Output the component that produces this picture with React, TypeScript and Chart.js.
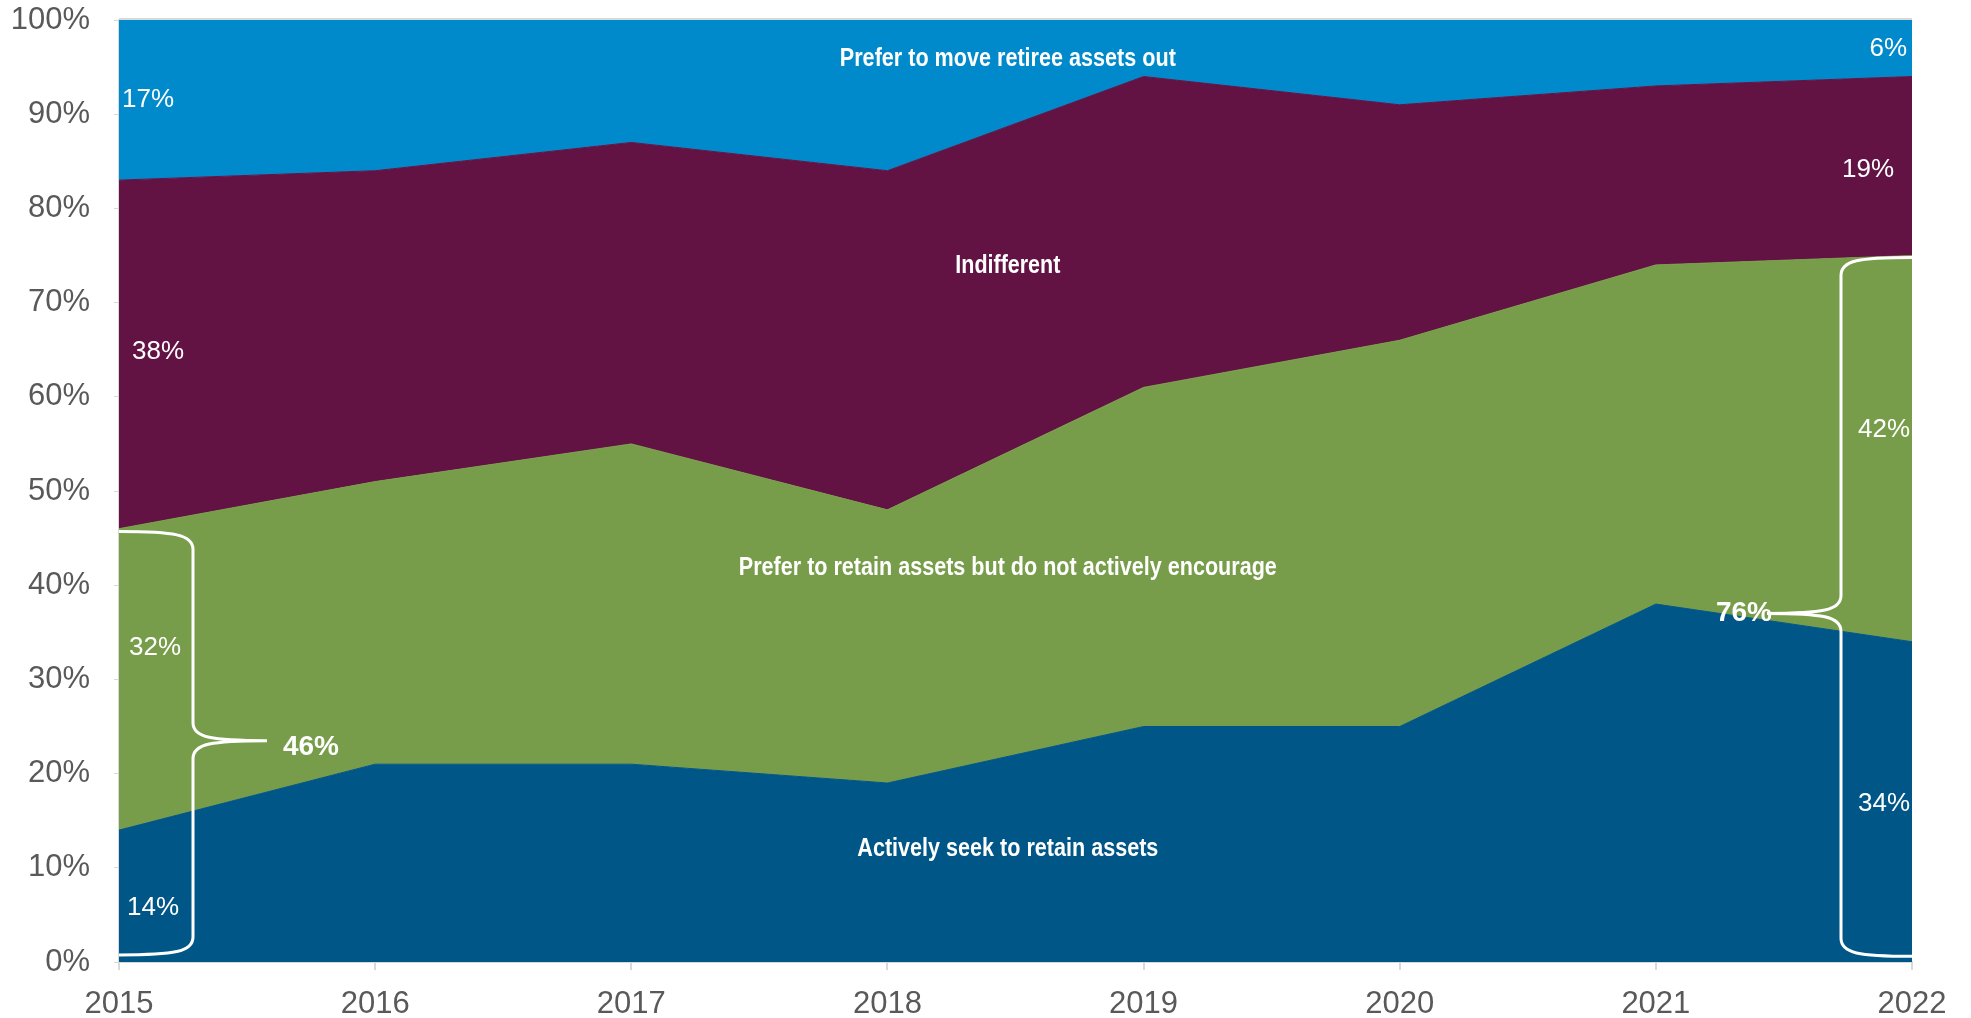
import React, { useEffect, useRef } from "react";
import { Chart, registerables } from "chart.js";

Chart.register(...registerables);

// ---------- data ----------
const years = ["2015", "2016", "2017", "2018", "2019", "2020", "2021", "2022"];
const activelySeek = [14, 21, 21, 19, 25, 25, 38, 34];
const preferRetain = [32, 30, 34, 29, 36, 41, 36, 41];
const indifferent = [37, 33, 32, 36, 33, 25, 19, 19];
const moveOut = [17, 16, 13, 16, 6, 9, 7, 6];

const seriesNames = [
  "Actively seek to retain assets",
  "Prefer to retain assets but do not actively encourage",
  "Indifferent",
  "Prefer to move retiree assets out",
];
const seriesColors = ["#005687", "#789D4A", "#621344", "#008ACC"];

const yTickValues = [0, 10, 20, 30, 40, 50, 60, 70, 80, 90, 100];

const firstYearLabels = ["14%", "32%", "38%", "17%"];
const lastYearLabels = ["34%", "42%", "19%", "6%"];
const firstYearTotal = "46%";
const lastYearTotal = "76%";

// ---------- annotation placement (data-space y, pixel offsets in x) ----------
const nameX = 3.47;
const nameY = [12.0, 41.8, 73.9, 95.8];
const nameWidths = [301, 538, 105, 336];

const firstLabelY = [5.8, 33.3, 64.8, 91.5];
const firstLabelDx = [8, 10, 13, 3];
const lastLabelY = [16.8, 56.5, 84.1, 96.9];
const lastLabelDx = [-2, -2, -18, -5];

const FONT = '"Liberation Sans", Arial, Helvetica, sans-serif';

function drawBrace(
  ctx: CanvasRenderingContext2D,
  xEnd: number,
  xStem: number,
  xTip: number,
  yTop: number,
  yBot: number,
  yTip: number
) {
  const d = xStem - xEnd;
  const t = xTip - xStem;
  const r = 18;
  ctx.beginPath();
  ctx.moveTo(xEnd, yTop);
  ctx.bezierCurveTo(xEnd + 0.75 * d, yTop, xStem, yTop + 3, xStem, yTop + r);
  ctx.lineTo(xStem, yTip - r);
  ctx.bezierCurveTo(xStem, yTip - 3, xStem + 0.25 * t, yTip, xTip, yTip);
  ctx.moveTo(xTip, yTip);
  ctx.bezierCurveTo(xStem + 0.25 * t, yTip, xStem, yTip + 3, xStem, yTip + r);
  ctx.lineTo(xStem, yBot - r);
  ctx.bezierCurveTo(xStem, yBot - 3, xEnd + 0.75 * d, yBot, xEnd, yBot);
  ctx.stroke();
}

const annotationPlugin = {
  id: "annotations",
  afterDatasetsDraw(chart: any) {
    const { ctx, chartArea } = chart;
    const x = chart.scales.x;
    const y = chart.scales.y;
    ctx.save();

    // top border line
    ctx.strokeStyle = "#d9d9d9";
    ctx.lineWidth = 2;
    ctx.beginPath();
    ctx.moveTo(chartArea.left, chartArea.top - 1);
    ctx.lineTo(chartArea.right, chartArea.top - 1);
    ctx.stroke();

    ctx.fillStyle = "#ffffff";
    ctx.textBaseline = "middle";

    // series names
    ctx.textAlign = "center";
    ctx.font = `bold 25px ${FONT}`;
    seriesNames.forEach((name, i) => {
      ctx.fillText(name, x.getPixelForValue(nameX), y.getPixelForValue(nameY[i]), nameWidths[i]);
    });

    // first-year percentages
    ctx.font = `26px ${FONT}`;
    ctx.textAlign = "left";
    const x0 = x.getPixelForValue(0);
    firstYearLabels.forEach((lab, i) => {
      ctx.fillText(lab, x0 + firstLabelDx[i], y.getPixelForValue(firstLabelY[i]));
    });

    // last-year percentages
    ctx.textAlign = "right";
    const x7 = x.getPixelForValue(years.length - 1);
    lastYearLabels.forEach((lab, i) => {
      ctx.fillText(lab, x7 + lastLabelDx[i], y.getPixelForValue(lastLabelY[i]));
    });

    // braces
    ctx.strokeStyle = "#ffffff";
    ctx.lineWidth = 3;
    drawBrace(ctx, x0, x0 + 74, x0 + 148, y.getPixelForValue(45.7), y.getPixelForValue(0.75), y.getPixelForValue(23.5));
    drawBrace(ctx, x7, x7 - 71, x7 - 145, y.getPixelForValue(74.8), y.getPixelForValue(0.6), y.getPixelForValue(37.0));

    // totals
    ctx.font = `bold 28px ${FONT}`;
    ctx.textAlign = "center";
    ctx.fillText(firstYearTotal, x0 + 192, y.getPixelForValue(22.8));
    ctx.fillText(lastYearTotal, x7 - 168, y.getPixelForValue(37.0));

    ctx.restore();
  },
};

export default function App() {
  const ref = useRef<HTMLCanvasElement | null>(null);

  useEffect(() => {
    const prevMargin = document.body.style.margin;
    document.body.style.margin = "0";
    if (!ref.current) return;
    const series = [activelySeek, preferRetain, indifferent, moveOut];
    const chart = new Chart(ref.current, {
      type: "line",
      data: {
        labels: years,
        datasets: series.map((data, i) => ({
          label: seriesNames[i],
          data,
          backgroundColor: seriesColors[i],
          borderColor: seriesColors[i],
          borderWidth: 1,
          pointRadius: 0,
          tension: 0,
          fill: i === 0 ? "origin" : "-1",
        })),
      },
      options: {
        animation: false,
        responsive: false,
        maintainAspectRatio: false,
        layout: { padding: { top: 20, right: 59, left: 0, bottom: 0 } },
        plugins: {
          legend: { display: false },
          tooltip: { enabled: false },
        },
        scales: {
          x: {
            offset: false,
            grid: {
              display: true,
              drawOnChartArea: false,
              drawTicks: true,
              tickLength: 8,
              color: "#d9d9d9",
              lineWidth: 2,
            },
            border: { display: true, color: "#d9d9d9", width: 2 },
            ticks: {
              color: "#595959",
              font: { family: FONT, size: 31 },
              padding: 16,
              maxRotation: 0,
              autoSkip: false,
            },
            afterFit: (s: any) => {
              s.height = 56;
              s.paddingLeft = 0;
              s.paddingRight = 0;
            },
          },
          y: {
            stacked: true,
            min: 0,
            max: 100,
            afterBuildTicks: (s: any) => {
              s.ticks = yTickValues.map((v) => ({ value: v }));
            },
            grid: {
              display: true,
              drawOnChartArea: true,
              drawTicks: true,
              tickLength: 5,
              color: "#d9d9d9",
              lineWidth: 1,
            },
            border: { display: true, color: "#d9d9d9", width: 2 },
            ticks: {
              color: "#595959",
              font: { family: FONT, size: 31 },
              padding: 24,
              callback: (v: any) => `${v}%`,
            },
            afterFit: (s: any) => {
              s.width = 119;
              s.paddingTop = 0;
              s.paddingBottom = 0;
            },
          },
        },
      },
      plugins: [annotationPlugin],
    });
    return () => {
      chart.destroy();
      document.body.style.margin = prevMargin;
    };
  }, []);

  return (
    <div style={{ position: "absolute", left: 0, top: 0, width: 1971, height: 1018, background: "#ffffff" }}>
      <canvas ref={ref} width={1971} height={1018} style={{ width: 1971, height: 1018, display: "block" }} />
    </div>
  );
}
